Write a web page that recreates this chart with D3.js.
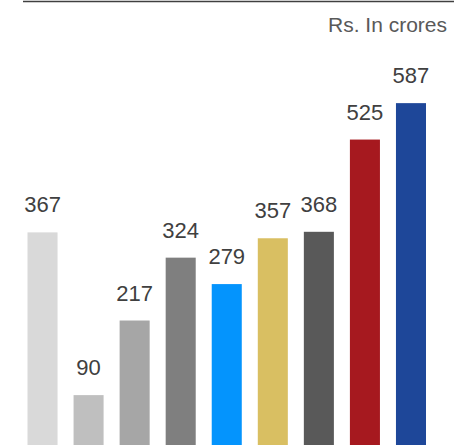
<!DOCTYPE html>
<html>
<head>
<meta charset="utf-8">
<script src="https://cdn.jsdelivr.net/npm/d3@7"></script>
<style>
  body { margin: 0; background: #fff; }
  svg { display: block; }
</style>
</head>
<body>
<svg id="chart" width="454" height="445"></svg>
<script>
    // bar data, left to right (categories are not labelled in the picture)
    var categories = ["b1", "b2", "b3", "b4", "b5", "b6", "b7", "b8", "b9"];
    var values = [367, 90, 217, 324, 279, 357, 368, 525, 587];
    var colors = ["#d9d9d9", "#bfbfbf", "#a6a6a6", "#7f7f7f", "#0494fd",
                  "#d9bf62", "#595959", "#a6191f", "#1e4799"];
    var unitLabel = "Rs. In crores";

    var svg = d3.select("#chart");
    var font = "Arial, 'Liberation Sans', sans-serif";

    // top rule
    svg.append("line")
        .attr("x1", 23).attr("x2", 454)
        .attr("y1", 1.5).attr("y2", 1.5)
        .attr("stroke", "#404040")
        .attr("stroke-width", 1.5);

    svg.append("text")
        .attr("x", 447)
        .attr("y", 31.5)
        .attr("text-anchor", "end")
        .attr("font-family", font)
        .attr("font-size", "21px")
        .attr("fill", "#595959")
        .text(unitLabel);

    var x = d3.scaleBand()
        .domain(categories)
        .range([27.5, 426])
        .paddingInner(16 / 46)
        .paddingOuter(0);

    var y = d3.scaleLinear()
        .domain([0, 600])
        .range([448, 95.5]);

    var data = categories.map(function(c, i){ return {cat: c, value: values[i], color: colors[i]}; });

    svg.selectAll("rect.bar")
        .data(data)
        .enter().append("rect")
        .attr("class", "bar")
        .attr("x", function(d){ return x(d.cat); })
        .attr("width", x.bandwidth())
        .attr("y", function(d){ return y(d.value); })
        .attr("height", function(d){ return y(0) - y(d.value); })
        .attr("fill", function(d){ return d.color; });

    //value labels
    svg.selectAll("text.val")
        .data(data)
        .enter().append("text")
        .attr("class", "val")
        .attr("x", function(d){ return x(d.cat) + x.bandwidth() / 2; })
        .attr("y", function(d){ return y(d.value) - 20; })
        .attr("text-anchor", "middle")
        .attr("font-family", font)
        .attr("font-size", "22px")
        .attr("fill", "#404040")
        .text(function(d){ return d.value; });
</script>
</body>
</html>
